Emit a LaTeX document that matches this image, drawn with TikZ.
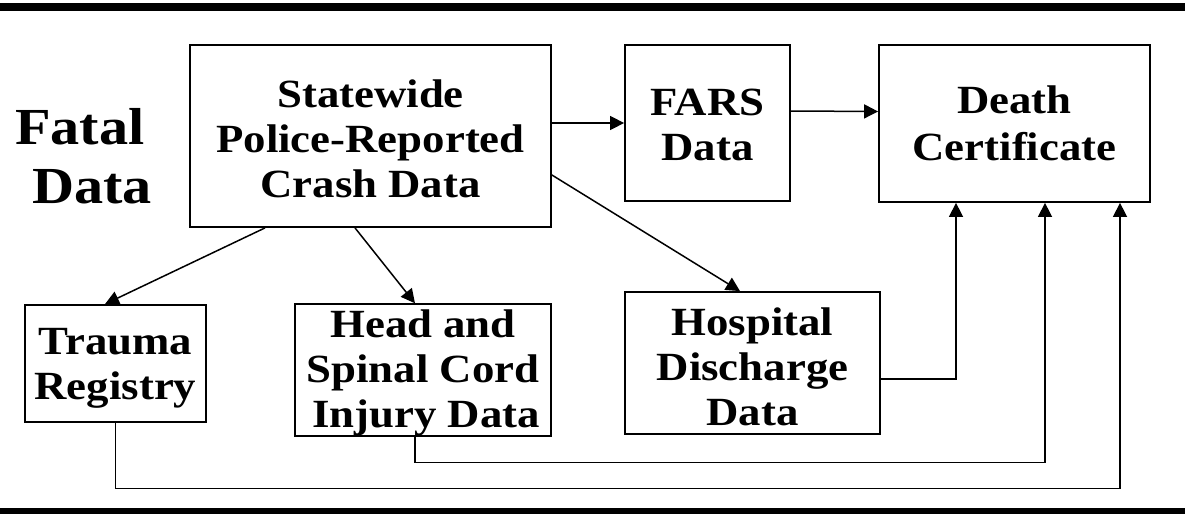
\documentclass[tikz,border=0pt]{standalone}
\usepackage{fontspec}
\setmainfont{Liberation Serif}[FakeStretch=1.12]
\usetikzlibrary{arrows.meta}
\tikzset{
  box/.style={draw, line width=1.8pt, inner sep=0pt, align=center,
    font=\fontsize{40}{45}\selectfont\bfseries},
  conn/.style={line width=1.5pt},
  arr/.style={conn, -{Triangle[length=14pt,width=14pt]}},
  title/.style={inner sep=0pt, align=left, font=\fontsize{52}{59}\selectfont\bfseries}
}
\begin{document}
\begin{tikzpicture}[x=1pt,y=-1pt]
\useasboundingbox (0,0) rectangle (1185,514);
% top and bottom rules
\fill (0,3) rectangle (1185,11);
\fill (0,508) rectangle (1185,514);

\node[title, anchor=west] (fd) at (15,156) {Fatal\\\hspace*{17pt}Data};

\node[box, minimum width=361pt, minimum height=182pt] (st) at (370.5,136) {\rule{0pt}{34pt}Statewide\\Police-Reported\\Crash Data};
\node[box, minimum width=165pt, minimum height=156pt] (fars) at (707.5,123) {\rule{0pt}{31pt}FARS\\Data};
\node[box, minimum width=271pt, minimum height=157pt] (dc) at (1014.5,123.5) {Death\\[2pt]Certificate};
\node[box, minimum width=181pt, minimum height=117pt] (tr) at (115.5,363.5) {\rule{0pt}{36pt}Trauma\\Registry};
\node[box, minimum width=256pt, minimum height=130pt] (hs) at (423,370) {\rule{0pt}{33pt}Head and\\Spinal Cord\\\hspace*{6pt}Injury Data};
\node[box, minimum width=255pt, minimum height=142pt] (hd) at (752.5,363) {\rule{0pt}{35pt}Hospital\\Discharge\\Data};

% connectors
\draw[arr] ([xshift=-105.5pt]st.south) -- ([xshift=-10.5pt]tr.north);
\draw[arr] ([xshift=-15.5pt]st.south) -- ([xshift=-8pt]hs.north);
\draw[arr] (st.east |- fars.west) -- (fars.west);
\draw[arr] ([yshift=12pt]fars.east) -- ([yshift=12pt]dc.west);
\draw[arr] ([yshift=-39pt]st.east) -- ([xshift=-12.5pt]hd.north);
\draw[arr] ([yshift=-16pt]hd.east) -| ([xshift=-58.5pt]dc.south);
\draw[arr] ([xshift=-8pt]hs.south) -- ++(0,26) -| ([xshift=30.5pt]dc.south);
\draw[arr] (tr.south) -- ++(0,65.5) -| ([xshift=105.5pt]dc.south);
\end{tikzpicture}
\end{document}
